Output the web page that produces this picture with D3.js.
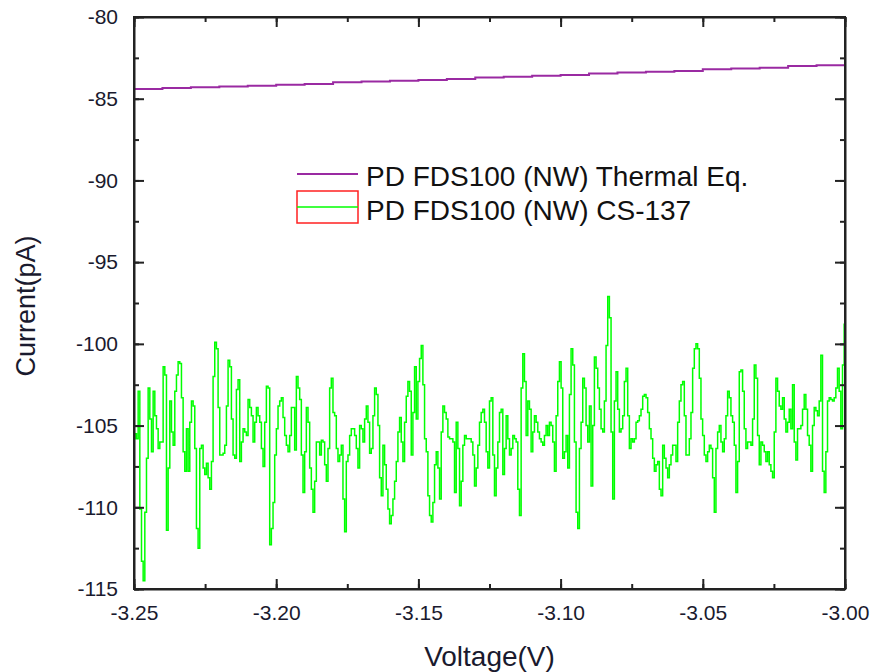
<!DOCTYPE html>
<html>
<head>
<meta charset="utf-8">
<script src="https://cdn.jsdelivr.net/npm/d3@7"></script>
<style>
  html, body { margin: 0; padding: 0; background: #fff; }
  svg { display: block; font-family: "Liberation Sans", Arial, sans-serif; }
</style>
</head>
<body>
<svg id="chart" width="872" height="672"></svg>
<script>
// ---------------- data ----------------
const xDomain = [-3.25, -3.00];
const yDomain = [-115, -80];
const xTickValues = [-3.25, -3.20, -3.15, -3.10, -3.05, -3.00];
const yTickValues = [-80, -85, -90, -95, -100, -105, -110, -115];
const xAxisTitle = "Voltage(V)";
const yAxisTitle = "Current(pA)";
const seriesNames = ["PD FDS100 (NW) Thermal Eq.", "PD FDS100 (NW) CS-137"];

// Thermal equilibrium trace (V, pA)
const thermalVoltage = [-3.25,-3.24,-3.23,-3.22,-3.21,-3.20,-3.19,-3.18,-3.17,-3.16,-3.15,-3.14,-3.13,
  -3.12,-3.11,-3.10,-3.09,-3.08,-3.07,-3.06,-3.05,-3.04,-3.03,-3.02,-3.01,-3.00];
const thermalCurrent = [-84.4,-84.35,-84.3,-84.25,-84.2,-84.15,-84.1,-84.0,-83.95,-83.9,-83.85,-83.8,-83.7,
  -83.65,-83.6,-83.55,-83.45,-83.4,-83.35,-83.3,-83.2,-83.15,-83.1,-83.0,-82.95,-82.9];

// CS-137 trace: current samples (pA), evenly spaced in voltage from -3.25 V to -3.00 V
const cs137Current = [
  -105.8,-105.5,-105.8,-102.9,-110.1,-113.3,-114.5,-110.3,-107.0,-102.7,-104.6,-106.6,-102.9,-104.4,-105.2,-106.4,
  -106.0,-106.0,-101.4,-101.9,-111.4,-107.6,-103.5,-105.4,-106.2,-102.9,-101.9,-101.1,-101.2,-103.3,-106.6,-107.8,
  -105.2,-107.8,-104.8,-103.5,-103.8,-106.4,-111.3,-112.5,-106.4,-106.2,-107.6,-108.0,-107.3,-108.2,-108.9,-107.2,
  -102.0,-99.9,-100.3,-103.9,-106.8,-106.8,-106.7,-106.2,-103.8,-101.0,-101.4,-104.6,-106.8,-107.0,-102.8,-102.2,
  -107.2,-106.0,-105.2,-105.4,-105.6,-103.4,-103.9,-104.4,-106.0,-104.8,-103.9,-104.4,-104.8,-106.4,-107.5,-104.8,
  -102.6,-102.7,-112.3,-111.3,-109.7,-106.8,-105.2,-103.8,-103.5,-103.3,-104.5,-105.6,-106.2,-106.6,-105.6,-103.9,
  -103.9,-106.5,-102.0,-102.7,-103.4,-106.8,-109.1,-106.6,-103.9,-104.8,
  -107.6,-108.9,-110.3,-108.4,-106.0,-106.0,-106.8,-105.9,-106.0,-107.4,-108.4,-106.4,-102.7,-102.1,-104.2,-104.4,
  -106.4,-107.2,-106.8,-106.2,-109.5,-111.5,-107.2,-106.8,-105.6,-105.2,-105.2,-105.6,-106.4,-107.6,-105.0,-105.2,
  -106.0,-104.6,-103.8,-104.8,-106.7,-106.4,-104.4,-102.7,-103.1,-105.0,-108.2,-109.3,-106.2,-107.4,-108.9,-110.1,
  -111.0,-110.5,-109.5,-108.4,-107.2,-105.4,-104.5,-106.0,-107.2,-104.8,-103.2,-102.3,-102.9,-106.8,-104.2,-101.4,
  -104.6,-102.3,-100.9,-100.1,-102.5,-105.8,-106.6,-109.3,-110.5,-110.9,-109.7,-107.4,-106.6,-107.6,-109.5,-105.4,
  -103.8,-104.2,-104.6,-105.7,-105.8,-105.8,-106.0,-109.1,-104.8,-106.4,-109.9,-108.4,-106.2,-105.6,-105.8,-105.8,
  -105.8,-106.0,-106.8,-108.7,-107.6,-106.2,-104.8,
  -104.2,-104.0,-104.8,-106.6,-107.6,-103.5,-103.3,-106.8,-109.3,-107.6,-106.0,-104.2,-104.0,-108.0,-106.4,-104.4,
  -105.8,-106.8,-106.4,-105.6,-105.8,-106.0,-108.9,-110.5,-102.7,-100.6,-102.3,-105.6,-103.5,-104.0,-106.6,-105.4,
  -104.4,-104.8,-105.4,-105.8,-106.0,-106.2,-105.6,-105.0,-105.6,-104.8,-105.0,-106.0,-107.8,-104.4,-102.3,-101.1,
  -102.7,-107.0,-106.6,-105.6,-107.6,-103.1,-100.3,-101.3,-106.0,-110.3,-111.3,-106.4,-104.8,-102.1,-102.7,-105.0,
  -106.0,-103.8,-108.7,-105.0,-100.8,-101.5,-102.7,-104.0,-105.2,-105.4,-103.5,-100.1,-97.1,-98.4,-105.4,-109.5,
  -103.5,-101.7,-104.0,-105.4,-105.2,-104.4,-102.3,-101.5,-104.4,-106.4,-105.8,-106.0,-105.8,-104.8,-104.7,-104.4,
  -104.0,-103.2,-103.1,-103.3,-104.2,-105.2,-105.8,-107.0,-107.8,-107.4,-107.2,-108.9,
  -109.3,-106.2,-107.0,-107.6,-108.2,-107.4,-106.8,-106.2,-106.2,-107.2,-104.8,-103.5,-102.5,-102.3,-104.4,-106.8,
  -106.8,-105.8,-104.2,-101.5,-100.3,-100.0,-100.3,-102.1,-104.6,-105.6,-106.8,-107.2,-106.6,-106.2,-106.4,-108.2,
  -110.3,-106.4,-105.4,-105.0,-106.0,-106.6,-105.8,-104.4,-102.9,-103.3,-104.4,-104.8,-106.2,-109.1,-107.2,-101.7,
  -101.6,-102.9,-105.2,-106.4,-106.0,-106.0,-106.2,-104.6,-101.3,-102.1,-105.6,-107.4,-106.0,-106.2,-106.6,-107.2,
  -106.6,-107.4,-107.8,-108.2,-105.4,-102.1,-102.9,-103.8,-104.0,-103.3,-104.6,-105.4,-104.8,-104.0,-105.2,-102.5,
  -106.0,-107.1,-105.2,-105.2,-105.0,-104.0,-103.1,-104.0,-105.6,-106.2,-107.8,-105.0,-103.9,-104.1,-104.4,-103.5,
  -100.7,-107.8,-109.1,-106.6,-103.5,-103.3,-103.4,-103.5,-103.3,-102.7,-101.5,-102.9,-105.2,-101.3,-98.8
];

// ---------------- layout ----------------
const margin = { left: 134, right: 845, top: 17, bottom: 589 };
const svg = d3.select("#chart");

const x = d3.scaleLinear().domain(xDomain).range([margin.left, margin.right]);
const y = d3.scaleLinear().domain(yDomain).range([margin.bottom, margin.top]);

const n = cs137Current.length;
const cs137Voltage = cs137Current.map((_, i) => xDomain[0] + (xDomain[1] - xDomain[0]) * i / (n - 1));

// clip
svg.append("clipPath").attr("id", "plotClip")
  .append("rect")
  .attr("x", margin.left).attr("y", margin.top)
  .attr("width", margin.right - margin.left).attr("height", margin.bottom - margin.top);

const plot = svg.append("g").attr("clip-path", "url(#plotClip)");

// green trace
const lineGreen = d3.line()
  .x((d, i) => x(cs137Voltage[i]))
  .y(d => y(d))
  .curve(d3.curveStep);
plot.append("path")
  .datum(cs137Current)
  .attr("fill", "none")
  .attr("stroke", "#00ff00")
  .attr("stroke-width", 1.5)
  .attr("d", lineGreen);

// purple trace
const linePurple = d3.line()
  .x((d, i) => x(thermalVoltage[i]))
  .y(d => y(d))
  .curve(d3.curveStepAfter);
plot.append("path")
  .datum(thermalCurrent)
  .attr("fill", "none")
  .attr("stroke", "#9a2aa2")
  .attr("stroke-width", 2)
  .attr("d", linePurple);

// ---------------- axes ----------------
const axisColor = "#222";
const xMinor = d3.range(0, 11).map(i => -3.25 + i * 0.025);
const yMinor = d3.range(0, 15).map(i => -115 + i * 2.5);

function styleAxis(g) {
  g.select(".domain").attr("stroke", axisColor).attr("stroke-width", 2);
  g.selectAll(".tick line").attr("stroke", axisColor).attr("stroke-width", 2);
}

// bottom
const gB = svg.append("g").attr("transform", `translate(0,${margin.bottom})`)
  .call(d3.axisBottom(x).tickValues(xTickValues).tickSizeInner(-10).tickSizeOuter(0).tickPadding(16)
    .tickFormat(d => d.toFixed(2)));
styleAxis(gB);
gB.selectAll(".tick text").attr("font-size", 21).attr("fill", "#1a1a2e")
  .attr("font-family", "'Liberation Sans', Arial, sans-serif").attr("dy", "0.71em");
svg.append("g").attr("transform", `translate(0,${margin.bottom})`)
  .call(d3.axisBottom(x).tickValues(xMinor).tickSize(-5).tickFormat(""))
  .call(g => { g.select(".domain").remove(); g.selectAll("line").attr("stroke", axisColor).attr("stroke-width", 2); });

// top
const gT = svg.append("g").attr("transform", `translate(0,${margin.top})`)
  .call(d3.axisTop(x).tickValues(xTickValues).tickSizeInner(-10).tickSizeOuter(0).tickFormat(""));
styleAxis(gT);
svg.append("g").attr("transform", `translate(0,${margin.top})`)
  .call(d3.axisTop(x).tickValues(xMinor).tickSize(-5).tickFormat(""))
  .call(g => { g.select(".domain").remove(); g.selectAll("line").attr("stroke", axisColor).attr("stroke-width", 2); });

// left
const gL = svg.append("g").attr("transform", `translate(${margin.left},0)`)
  .call(d3.axisLeft(y).tickValues(yTickValues).tickSizeInner(-10).tickSizeOuter(0).tickPadding(16)
    .tickFormat(d => String(d)));
styleAxis(gL);
gL.selectAll(".tick text").attr("font-size", 21).attr("fill", "#1a1a2e")
  .attr("font-family", "'Liberation Sans', Arial, sans-serif");
svg.append("g").attr("transform", `translate(${margin.left},0)`)
  .call(d3.axisLeft(y).tickValues(yMinor).tickSize(-5).tickFormat(""))
  .call(g => { g.select(".domain").remove(); g.selectAll("line").attr("stroke", axisColor).attr("stroke-width", 2); });

// right
const gR = svg.append("g").attr("transform", `translate(${margin.right},0)`)
  .call(d3.axisRight(y).tickValues(yTickValues).tickSizeInner(-10).tickSizeOuter(0).tickFormat(""));
styleAxis(gR);
svg.append("g").attr("transform", `translate(${margin.right},0)`)
  .call(d3.axisRight(y).tickValues(yMinor).tickSize(-5).tickFormat(""))
  .call(g => { g.select(".domain").remove(); g.selectAll("line").attr("stroke", axisColor).attr("stroke-width", 2); });

// square corners of frame
svg.append("rect")
  .attr("x", margin.left).attr("y", margin.top)
  .attr("width", margin.right - margin.left).attr("height", margin.bottom - margin.top)
  .attr("fill", "none").attr("stroke", axisColor).attr("stroke-width", 2);

// axis titles
svg.append("text")
  .attr("x", (margin.left + margin.right) / 2).attr("y", 666)
  .attr("text-anchor", "middle").attr("font-size", 28).attr("fill", "#1a1a2e")
  .text(xAxisTitle);
svg.append("text")
  .attr("transform", `translate(35,306) rotate(-90)`)
  .attr("text-anchor", "middle").attr("font-size", 27).attr("fill", "#1a1a2e")
  .text(yAxisTitle);

// ---------------- legend ----------------
const legend = svg.append("g");
legend.append("line")
  .attr("x1", 297).attr("x2", 358).attr("y1", 174).attr("y2", 174)
  .attr("stroke", "#9a2aa2").attr("stroke-width", 2);
legend.append("text").attr("x", 366).attr("y", 186)
  .attr("font-size", 28).attr("fill", "#111").text(seriesNames[0]);
legend.append("rect")
  .attr("x", 297).attr("y", 191).attr("width", 61).attr("height", 32)
  .attr("fill", "none").attr("stroke", "#ff2020").attr("stroke-width", 1.5);
legend.append("line")
  .attr("x1", 297).attr("x2", 358).attr("y1", 207).attr("y2", 207)
  .attr("stroke", "#00ff00").attr("stroke-width", 1.5);
legend.append("text").attr("x", 366).attr("y", 220)
  .attr("font-size", 28).attr("fill", "#111").text(seriesNames[1]);
</script>
</body>
</html>
